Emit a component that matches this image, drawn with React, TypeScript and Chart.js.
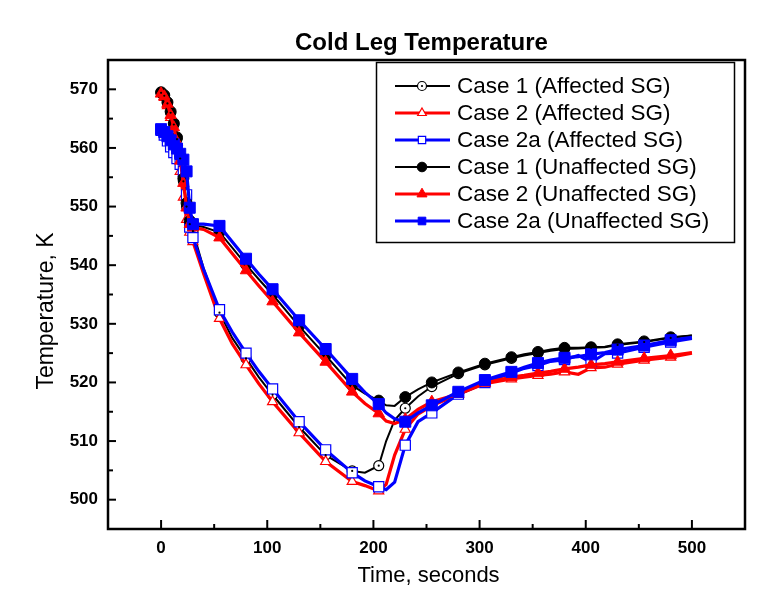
import React, { useEffect, useRef } from 'react';
import { Chart, registerables } from 'chart.js';

Chart.register(...registerables);

// ---- data ----
const timeSec = [0, 3, 6, 9, 12, 15, 18, 21, 24, 27, 30, 40, 55, 67, 80, 92, 105, 130, 155, 180, 192,
  205, 212, 220, 230, 242, 255, 280, 305, 330, 342, 355, 367, 380, 393, 405, 418, 430, 455, 480, 500];

const case1Affected = [569.4, 568.9, 567.6, 566.0, 564.0, 561.5, 558.2, 554.3, 550.0, 547.0, 545.8,
  539.5, 531.9, 527.6, 524.1, 520.9, 517.9, 512.4, 507.6, 504.9, 504.6,
  505.8, 510.0, 513.6, 515.6, 517.6, 519.3,
  521.5, 523.0, 524.1, 524.6, 525.0, 525.4, 525.7, 525.8, 525.9, 526.0, 526.4, 526.9, 527.6, 528.0];

const case2Affected = [569.2, 568.6, 567.2, 565.2, 562.8, 559.8, 556.0, 551.6, 547.8, 545.6, 544.0,
  538.6, 530.9, 526.6, 523.0, 519.8, 516.7, 511.4, 506.5, 503.1, 502.4,
  501.5, 502.6, 507.6, 512.0, 514.6, 516.0,
  518.0, 519.8, 520.6, 520.9, 521.2, 521.4, 521.8, 521.4, 522.5, 522.6, 523.1, 523.8, 524.3, 525.0];

const case2aAffected = [563.0, 562.2, 561.2, 560.2, 559.2, 558.2, 557.2, 556.0, 552.0, 546.5, 544.7,
  539.3, 532.4, 528.6, 525.0, 521.9, 518.9, 513.3, 508.5, 504.6, 503.2,
  502.2, 501.7, 503.0, 509.3, 513.3, 514.8,
  518.0, 520.0, 521.6, 522.4, 522.9, 523.6, 523.9, 524.6, 523.4, 524.9, 525.0, 526.0, 526.9, 527.5];

const case1Unaffected = [569.5, 569.0, 567.8, 566.2, 564.2, 561.8, 558.6, 554.8, 550.6, 547.6, 546.8,
  546.5, 545.6, 543.0, 540.1, 537.6, 535.0, 529.6, 524.6, 519.5, 518.1,
  516.9, 516.1, 516.0, 517.5, 518.8, 520.0,
  521.7, 523.2, 524.3, 524.8, 525.2, 525.6, 525.9, 525.9, 526.0, 526.1, 526.5, 527.0, 527.7, 528.0];

const case2Unaffected = [569.3, 568.8, 567.5, 565.6, 563.5, 561.0, 557.8, 554.0, 549.8, 547.0, 546.4,
  546.1, 544.7, 542.0, 539.1, 536.5, 533.8, 528.5, 523.5, 518.4, 516.4,
  514.7, 513.4, 513.0, 513.7, 515.4, 516.7,
  518.0, 519.9, 520.9, 521.2, 521.6, 521.9, 522.3, 522.6, 523.0, 523.2, 523.5, 524.1, 524.6, 525.1];

const case2aUnaffected = [563.2, 562.7, 562.0, 561.3, 560.6, 559.9, 559.0, 558.0, 556.0, 549.8, 547.0,
  547.0, 546.7, 544.0, 541.1, 538.5, 535.9, 530.6, 525.7, 520.6, 518.3,
  516.3, 514.8, 513.8, 513.3, 514.8, 516.1,
  518.4, 520.4, 521.8, 522.6, 523.3, 523.8, 524.2, 524.4, 524.8, 525.1, 525.6, 526.3, 527.2, 527.7];

const seriesLabels = [
  'Case 1 (Affected SG)',
  'Case 2 (Affected SG)',
  'Case 2a (Affected SG)',
  'Case 1 (Unaffected SG)',
  'Case 2 (Unaffected SG)',
  'Case 2a (Unaffected SG)',
];

const xTickValues = [0, 100, 200, 300, 400, 500];
const yTickValues = [500, 510, 520, 530, 540, 550, 560, 570];

const chartTitle = 'Cold Leg Temperature';
const xAxisTitle = 'Time, seconds';
const yAxisTitle = 'Temperature, K';

const FONT = "'Liberation Sans', Arial, Helvetica, sans-serif";

const isMarker = (t: number) => t <= 30 || (t >= 55 && (t - 5) % 25 === 0);

type Style = { color: string; shape: 'circle' | 'triangle' | 'rect'; filled: boolean; lw: number; r: number; lr: number };

const styles: Style[] = [
  { color: '#000000', shape: 'circle', filled: false, lw: 2, r: 5, lr: 4.5 },
  { color: '#ff0000', shape: 'triangle', filled: false, lw: 3.2, r: 5.8, lr: 5 },
  { color: '#0000ff', shape: 'rect', filled: false, lw: 3.2, r: 7.2, lr: 5.2 },
  { color: '#000000', shape: 'circle', filled: true, lw: 2, r: 5.5, lr: 4.8 },
  { color: '#ff0000', shape: 'triangle', filled: true, lw: 3.2, r: 6.6, lr: 5.8 },
  { color: '#0000ff', shape: 'rect', filled: true, lw: 3.2, r: 7.8, lr: 5.4 },
];

function drawMarker(ctx: CanvasRenderingContext2D, s: Style, x: number, y: number, r: number) {
  ctx.beginPath();
  if (s.shape === 'circle') {
    ctx.arc(x, y, r, 0, Math.PI * 2);
  } else if (s.shape === 'triangle') {
    const w = r * Math.sin(Math.PI / 3);
    ctx.moveTo(x, y - r);
    ctx.lineTo(x + w, y + r / 2);
    ctx.lineTo(x - w, y + r / 2);
    ctx.closePath();
  } else {
    const h = r * Math.SQRT1_2;
    ctx.rect(x - h, y - h, 2 * h, 2 * h);
  }
  ctx.fillStyle = s.filled ? s.color : '#ffffff';
  ctx.fill();
  ctx.lineWidth = s.filled ? 1 : 1.2;
  ctx.strokeStyle = s.color;
  ctx.stroke();
  if (s.shape === 'circle' && !s.filled) {
    ctx.beginPath();
    ctx.arc(x, y, 1.1, 0, Math.PI * 2);
    ctx.fillStyle = '#000';
    ctx.fill();
  }
}

const decorPlugin = {
  id: 'decor',
  afterDatasetsDraw(chart: any) {
    const ctx = chart.ctx as CanvasRenderingContext2D;
    const meta = chart.getDatasetMeta(0);
    ctx.save();
    ctx.fillStyle = '#000';
    meta.data.forEach((p: any, i: number) => {
      if (isMarker(timeSec[i])) {
        ctx.beginPath();
        ctx.arc(p.x, p.y, 1.1, 0, Math.PI * 2);
        ctx.fill();
      }
    });
    ctx.restore();
  },
  afterDraw(chart: any) {
    const ctx = chart.ctx as CanvasRenderingContext2D;
    const a = chart.chartArea;
    const xs = chart.scales.x;
    const ys = chart.scales.y;
    ctx.save();
    ctx.strokeStyle = '#000';
    // ticks (inward)
    ctx.lineWidth = 2;
    for (let v = xs.min + 50; v < xs.max; v += 50) {
      const px = xs.getPixelForValue(v);
      const len = v % 100 === 0 ? 9 : 5;
      ctx.beginPath();
      ctx.moveTo(px, a.bottom);
      ctx.lineTo(px, a.bottom - len);
      ctx.stroke();
    }
    for (let v = ys.min + 5; v < ys.max; v += 5) {
      const py = ys.getPixelForValue(v);
      const len = v % 10 === 0 ? 8 : 5;
      ctx.beginPath();
      ctx.moveTo(a.left, py);
      ctx.lineTo(a.left + len, py);
      ctx.stroke();
    }
    // frame
    ctx.lineWidth = 2.5;
    ctx.strokeRect(a.left, a.top, a.right - a.left, a.bottom - a.top);

    // title and axis titles
    ctx.fillStyle = '#000';
    ctx.textBaseline = 'alphabetic';
    ctx.textAlign = 'center';
    ctx.font = `bold 24px ${FONT}`;
    ctx.fillText(chartTitle, 421.5, 50);
    ctx.font = `22px ${FONT}`;
    ctx.fillText(xAxisTitle, 428.5, 582);
    ctx.save();
    ctx.translate(53, 311);
    ctx.rotate(-Math.PI / 2);
    ctx.font = `23px ${FONT}`;
    ctx.fillText(yAxisTitle, 0, 0);
    ctx.restore();

    // legend
    const bx = 376.5, by = 62.5, bw = 358, bh = 180;
    ctx.fillStyle = '#fff';
    ctx.fillRect(bx, by, bw, bh);
    ctx.lineWidth = 1.5;
    ctx.strokeStyle = '#000';
    ctx.strokeRect(bx, by, bw, bh);
    ctx.font = `22.5px ${FONT}`;
    ctx.textAlign = 'left';
    ctx.textBaseline = 'middle';
    seriesLabels.forEach((lab, i) => {
      const s = styles[i];
      const cy = 86 + i * 27;
      ctx.beginPath();
      ctx.moveTo(395, cy);
      ctx.lineTo(450, cy);
      ctx.lineWidth = s.lw;
      ctx.strokeStyle = s.color;
      ctx.stroke();
      drawMarker(ctx, s, 422, cy, s.lr);
      ctx.fillStyle = '#000';
      ctx.fillText(lab, 457, cy + 1);
    });
    ctx.restore();
  },
};

export default function App() {
  const ref = useRef<HTMLCanvasElement>(null);

  useEffect(() => {
    const canvas = ref.current;
    if (!canvas) return;
    const seriesValues = [case1Affected, case2Affected, case2aAffected, case1Unaffected, case2Unaffected, case2aUnaffected];
    const datasets = seriesValues.map((vals, i) => {
      const s = styles[i];
      return {
        label: seriesLabels[i],
        data: timeSec.map((t, j) => ({ x: t, y: vals[j] })),
        borderColor: s.color,
        backgroundColor: s.filled ? s.color : '#ffffff',
        borderWidth: s.lw,
        tension: 0,
        pointStyle: s.shape,
        pointRadius: (c: any) => (isMarker(timeSec[c.dataIndex]) ? s.r : 0),
        pointHoverRadius: (c: any) => (isMarker(timeSec[c.dataIndex]) ? s.r : 0),
        pointBorderColor: s.color,
        pointBackgroundColor: s.filled ? s.color : '#ffffff',
        pointBorderWidth: s.filled ? 1 : 1.2,
        order: 6 - i,
      };
    });

    const tickFont = { family: FONT, size: 17, weight: 'bold' as const };
    const chart = new Chart(canvas, {
      type: 'line',
      data: { datasets },
      options: {
        responsive: false,
        devicePixelRatio: 1,
        animation: false,
        events: [],
        layout: { padding: { left: 0, right: 28, top: 60, bottom: 0 } },
        plugins: { legend: { display: false }, tooltip: { enabled: false }, title: { display: false } },
        scales: {
          x: {
            type: 'linear',
            min: -50,
            max: 550,
            afterBuildTicks: (s: any) => { s.ticks = xTickValues.map((v) => ({ value: v })); },
            afterFit: (s: any) => { s.height = 82; },
            grid: { display: false, drawTicks: false },
            border: { display: false },
            ticks: { font: tickFont, color: '#000', padding: 9, maxRotation: 0, autoSkip: false },
          },
          y: {
            type: 'linear',
            min: 495,
            max: 575,
            afterBuildTicks: (s: any) => { s.ticks = yTickValues.map((v) => ({ value: v })); },
            afterFit: (s: any) => { s.width = 108; },
            grid: { display: false, drawTicks: false },
            border: { display: false },
            ticks: { font: tickFont, color: '#000', padding: 10, autoSkip: false },
          },
        },
      },
      plugins: [decorPlugin],
    });
    return () => chart.destroy();
  }, []);

  return (
    <div style={{ position: 'absolute', left: 0, top: 0, width: 773, height: 611, background: '#fff' }}>
      <canvas ref={ref} width={773} height={611} />
    </div>
  );
}
